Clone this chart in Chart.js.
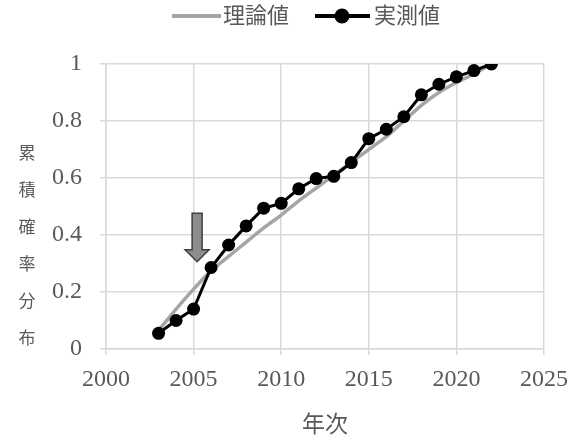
<!DOCTYPE html>
<html>
<head>
<meta charset="utf-8">
<script src="https://cdn.jsdelivr.net/npm/chart.js@4/dist/chart.umd.min.js"></script>
<style>
  html, body { margin: 0; padding: 0; background: #fff; }
  #wrap { width: 582px; height: 440px; }
</style>
</head>
<body>
<div id="wrap"><canvas id="cdf"></canvas></div>
<script>
const years = [2003, 2004, 2005, 2006, 2007, 2008, 2009, 2010, 2011, 2012,
  2013, 2014, 2015, 2016, 2017, 2018, 2019, 2020, 2021, 2022];
const theory = [0.065, 0.14, 0.21, 0.275, 0.325, 0.375, 0.425, 0.47, 0.52, 0.565,
  0.61, 0.655, 0.70, 0.745, 0.80, 0.855, 0.90, 0.935, 0.965, 1.0];
const measured = [0.055, 0.10, 0.14, 0.286, 0.365, 0.432, 0.494, 0.511, 0.562, 0.598,
  0.606, 0.654, 0.738, 0.771, 0.815, 0.892, 0.929, 0.955, 0.977, 1.0];
const seriesNames = ['理論値', '実測値'];
const xTitle = '年次';
const yTitle = ['累', '積', '確', '率', '分', '布'];
const xRange = [2000, 2025, 5];
const yRange = [0, 1, 0.2];
// arrow marking 2005 (year, top value, tip value)
const arrowMark = [2005.2, 0.476, 0.306];

const textColor = '#595959';
const gridColor = '#d9d9d9';
const grayLine = '#a5a5a5';
const fontFamily = '"Liberation Serif", "DejaVu Serif", "Noto Sans CJK JP", serif';

const toPoints = (ys) => years.map((yr, i) => ({ x: yr, y: ys[i] }));

const arrowPlugin = {
  id: 'arrow',
  afterDatasetsDraw(chart) {
    const { ctx, scales: { x, y } } = chart;
    const cx = x.getPixelForValue(arrowMark[0]);
    const top = y.getPixelForValue(arrowMark[1]);
    const tip = y.getPixelForValue(arrowMark[2]);
    const headH = 12;
    ctx.save();
    ctx.beginPath();
    ctx.moveTo(cx - 5, top);
    ctx.lineTo(cx + 5, top);
    ctx.lineTo(cx + 5, tip - headH);
    ctx.lineTo(cx + 12, tip - headH);
    ctx.lineTo(cx, tip);
    ctx.lineTo(cx - 12, tip - headH);
    ctx.lineTo(cx - 5, tip - headH);
    ctx.closePath();
    ctx.fillStyle = '#8c8c8c';
    ctx.fill();
    ctx.lineWidth = 1.5;
    ctx.strokeStyle = '#404040';
    ctx.stroke();
    ctx.restore();
  },
};

// vertical y title, one character per line
const yTitlePlugin = {
  id: 'yTitle',
  afterDraw(chart) {
    const { ctx } = chart;
    ctx.save();
    ctx.font = '17px ' + fontFamily;
    ctx.fillStyle = textColor;
    ctx.textAlign = 'center';
    ctx.textBaseline = 'middle';
    yTitle.forEach((ch, i) => {
      ctx.fillText(ch, 27, 155 + i * 37);
    });
    ctx.restore();
  },
};

// legend: gray line, black line with dot
const legendPlugin = {
  id: 'customLegend',
  afterDraw(chart) {
    const { ctx } = chart;
    const y = 16;
    ctx.save();
    ctx.lineWidth = 4;
    ctx.strokeStyle = grayLine;
    ctx.beginPath();
    ctx.moveTo(172, y);
    ctx.lineTo(221, y);
    ctx.stroke();
    ctx.strokeStyle = '#000';
    ctx.beginPath();
    ctx.moveTo(315, y);
    ctx.lineTo(370, y);
    ctx.stroke();
    ctx.beginPath();
    ctx.arc(342, y, 7.5, 0, Math.PI * 2);
    ctx.fillStyle = '#000';
    ctx.fill();
    ctx.font = '22px ' + fontFamily;
    ctx.fillStyle = textColor;
    ctx.textBaseline = 'middle';
    ctx.fillText(seriesNames[0], 223, y + 1);
    ctx.fillText(seriesNames[1], 374, y + 1);
    ctx.restore();
  },
};

const ctx = document.getElementById('cdf').getContext('2d');
new Chart(ctx, {
  type: 'line',
  data: {
    datasets: [
      {
        label: seriesNames[0],
        data: toPoints(theory),
        borderColor: grayLine,
        backgroundColor: grayLine,
        borderWidth: 3.5,
        pointRadius: 0,
        tension: 0.2,
        order: 2,
      },
      {
        label: seriesNames[1],
        data: toPoints(measured),
        borderColor: '#000',
        backgroundColor: '#000',
        borderWidth: 3,
        pointRadius: 6.5,
        pointStyle: 'circle',
        pointBackgroundColor: '#000',
        pointBorderWidth: 0,
        order: 1,
      },
    ],
  },
  options: {
    responsive: true,
    maintainAspectRatio: false,
    animation: false,
    layout: {
      padding: { left: 46, right: 38, top: 64, bottom: 0 },
    },
    scales: {
      x: {
        type: 'linear',
        min: xRange[0],
        max: xRange[1],
        ticks: {
          stepSize: xRange[2],
          color: textColor,
          font: { family: fontFamily, size: 24 },
          padding: 10,
          callback: (v) => String(v),
        },
        grid: { color: gridColor, lineWidth: 1.5, tickLength: 6 },
        border: { color: gridColor, width: 1.5 },
        title: {
          display: true,
          text: xTitle,
          color: textColor,
          font: { family: fontFamily, size: 23 },
          padding: { top: 8, bottom: 0 },
        },
        afterFit: (scale) => { scale.height = 91; },
      },
      y: {
        min: yRange[0],
        max: yRange[1],
        ticks: {
          stepSize: yRange[2],
          color: textColor,
          font: { family: fontFamily, size: 24 },
          padding: 18,
          callback: (v) => String(Math.round(v * 10) / 10),
        },
        grid: { color: gridColor, lineWidth: 1.5, tickLength: 6 },
        border: { color: gridColor, width: 1.5 },
        afterFit: (scale) => { scale.width = 60; },
      },
    },
    plugins: {
      legend: { display: false },
      tooltip: { enabled: false },
    },
  },
  plugins: [arrowPlugin, yTitlePlugin, legendPlugin],
});
</script>
</body>
</html>
